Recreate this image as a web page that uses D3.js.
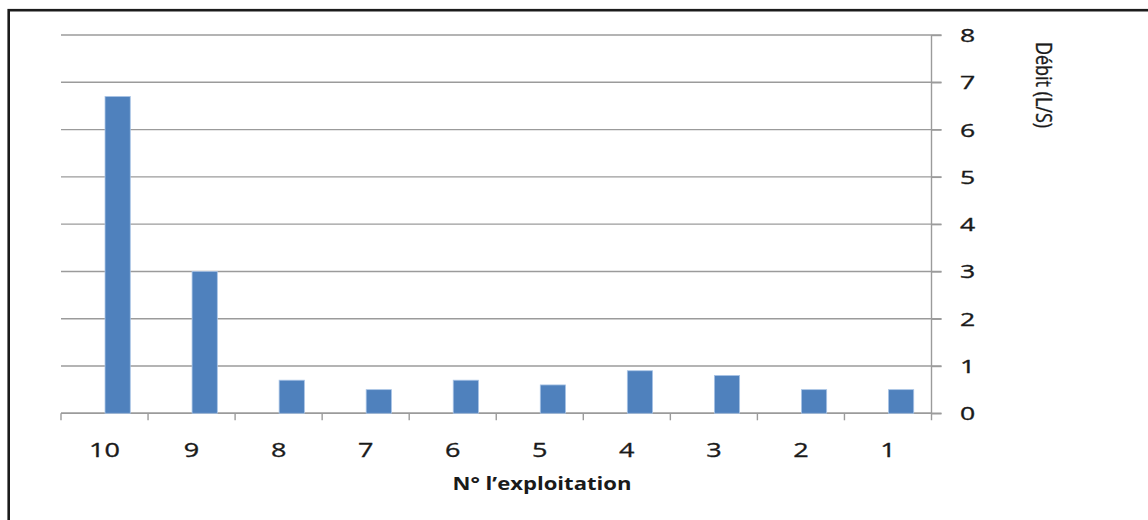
<!DOCTYPE html>
<html>
<head>
<meta charset="utf-8">
<script src="https://cdn.jsdelivr.net/npm/d3@7"></script>
<style>
  html, body { margin: 0; padding: 0; background: #fff; }
  svg { display: block; }
</style>
</head>
<body>
<svg id="chart" width="1148" height="520"></svg>
<script>
// Flow rate per farm, numbered 10 down to 1
const categories = ["10", "9", "8", "7", "6", "5", "4", "3", "2", "1"];
const debit = [6.7, 3.0, 0.7, 0.5, 0.7, 0.6, 0.9, 0.8, 0.5, 0.5];
const yTicks = [0, 1, 2, 3, 4, 5, 6, 7, 8];
const xTitle = "N° l’exploitation";
const yTitle = "Débit (L/S)";

const svg = d3.select("#chart");
const plot = { left: 61, right: 931.5, top: 35, bottom: 413.3 };

const x = d3.scaleBand().domain(categories).range([plot.left, plot.right]);
const y = d3.scaleLinear().domain([0, 8]).range([plot.bottom, plot.top]);

const grid = "#9b9b9b";
const ink = "#1a1a1a";
const font = "'Open Sans', 'DejaVu Sans', sans-serif";

// outer frame
svg.append("rect")
  .attr("x", 8.7).attr("y", 10.2)
  .attr("width", 1170).attr("height", 540)
  .attr("fill", "none").attr("stroke", "#1c1c1c").attr("stroke-width", 2.6);

// horizontal gridlines (extend past the axis as outer ticks)
svg.append("g")
  .selectAll("line")
  .data(yTicks)
  .join("line")
  .attr("x1", plot.left).attr("x2", plot.right + 10)
  .attr("y1", d => y(d)).attr("y2", d => y(d))
  .attr("stroke", grid).attr("stroke-width", 1.4);

// right value axis
const yAxis = svg.append("g")
  .attr("transform", `translate(${plot.right},0)`)
  .call(d3.axisRight(y).tickValues(yTicks).tickSize(10).tickFormat(d3.format("d")));
yAxis.select(".domain").remove();
yAxis.selectAll(".tick line").attr("stroke", grid).attr("stroke-width", 1.4);
yAxis.selectAll(".tick text").remove();
yAxis.append("line")
  .attr("x1", 0).attr("x2", 0)
  .attr("y1", plot.top).attr("y2", plot.bottom + 7)
  .attr("stroke", grid).attr("stroke-width", 1.4);
yAxis.selectAll(".tick")
  .append("text")
  .attr("transform", "translate(36,6.5) scale(1.4,1)")
  .attr("text-anchor", "middle")
  .attr("fill", ink).attr("stroke", ink).attr("stroke-width", 0.35)
  .style("font-family", font).style("font-size", "19px")
  .text(d => d);

// category axis along the zero line
const xAxis = svg.append("g")
  .attr("transform", `translate(0,${plot.bottom})`);
xAxis.append("line")
  .attr("x1", plot.left).attr("x2", plot.right)
  .attr("stroke", grid).attr("stroke-width", 1.4);
xAxis.selectAll("line.tk")
  .data(categories)
  .join("line")
  .attr("class", "tk")
  .attr("x1", d => x(d)).attr("x2", d => x(d))
  .attr("y1", 0).attr("y2", 7)
  .attr("stroke", grid).attr("stroke-width", 1.4);
xAxis.selectAll("text")
  .data(categories)
  .join("text")
  .attr("transform", d => `translate(${x(d) + x.bandwidth() / 2},${43.5}) scale(1.35,1)`)
  .attr("text-anchor", "middle")
  .attr("fill", ink).attr("stroke", ink).attr("stroke-width", 0.35)
  .style("font-family", font).style("font-size", "20px")
  .text(d => d);

// bars
const barW = x.bandwidth() * 0.29;
svg.append("g")
  .selectAll("rect")
  .data(categories.map((c, i) => ({ c, v: debit[i] })))
  .join("rect")
  .attr("x", d => x(d.c) + x.bandwidth() / 2 + 0.5)
  .attr("y", d => y(d.v))
  .attr("width", barW)
  .attr("height", d => y(0) - y(d.v))
  .attr("fill", "#4f81bd")
  .attr("stroke", "#a9c4e6").attr("stroke-width", 0.8);

// axis titles
svg.append("text")
  .attr("transform", "translate(542,490) scale(1.3,1)")
  .attr("text-anchor", "middle")
  .attr("fill", ink)
  .style("font-family", font).style("font-size", "17px").style("font-weight", "bold")
  .text(xTitle);

svg.append("text")
  .attr("transform", "translate(1036,85) scale(1.25,1) rotate(90)")
  .attr("text-anchor", "middle")
  .attr("fill", ink).attr("stroke", ink).attr("stroke-width", 0.3)
  .style("font-family", font).style("font-size", "18px")
  .text(yTitle);
</script>
</body>
</html>
